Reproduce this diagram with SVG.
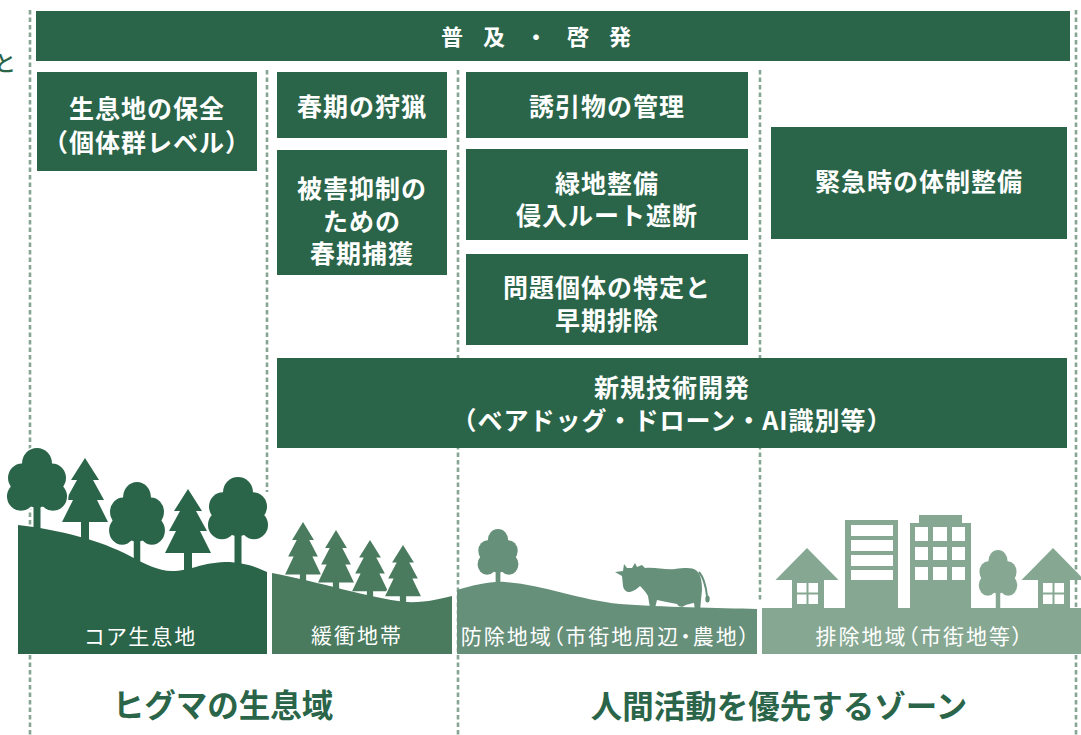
<svg xmlns="http://www.w3.org/2000/svg" xmlns:xlink="http://www.w3.org/1999/xlink" width="1081" height="735" viewBox="0 0 1081 735">
  <style>
    .box { fill: #2a6549; }
    .bt { fill: #fff; font-family: "Noto Sans CJK JP", "Noto Sans", sans-serif; font-weight: 700; font-size: 25px; letter-spacing: 1px; text-anchor: middle; dominant-baseline: central; }
    .banner { fill: #fff; font-family: "Noto Sans CJK JP", sans-serif; font-weight: 700; font-size: 22px; letter-spacing: 20px; text-anchor: middle; dominant-baseline: central; }
    .lt { fill: #fff; font-family: "Noto Sans CJK JP", sans-serif; font-weight: 400; font-size: 21px; letter-spacing: 2px; text-anchor: middle; dominant-baseline: central; font-feature-settings: "palt"; }
    .zone { fill: #2a6549; font-family: "Noto Sans CJK JP", sans-serif; font-weight: 700; font-size: 31.5px; text-anchor: middle; dominant-baseline: central; }
    .dash { stroke: #86a592; stroke-width: 2.6; stroke-dasharray: 4.5 3; fill: none; }
    .halo { fill: #fff; stroke: #fff; stroke-width: 3; }
    .win { fill: #fff; }
    .c1 { fill: #2a6549; }
    .c2 { fill: #4a7b5e; }
    .c3 { fill: #66907a; }
    .c4 { fill: #86a892; }
  </style>
  <defs>
    <!-- broadleaf tree: canopy top at (0,0) -->
    <g id="broadleaf">
      <circle cx="0" cy="15" r="15"/>
      <circle cx="-15" cy="29" r="14"/>
      <circle cx="15" cy="29" r="14"/>
      <circle cx="-16" cy="47" r="14"/>
      <circle cx="16" cy="47" r="14"/>
      <circle cx="0" cy="40" r="18"/>
      <rect x="-3.5" y="45" width="7" height="70"/>
    </g>
    <!-- conifer: apex at (0,0) -->
    <g id="pine">
      <path d="M0,0 L14,22 L8,22 L19,42 L12,42 L23,64 L-23,64 L-12,42 L-19,42 L-8,22 L-14,22 Z"/>
      <rect x="-4" y="60" width="8" height="40"/>
    </g>
    <g id="house">
      <path d="M0,0 L31.5,32 L-31.5,32 Z"/>
      <rect x="-15" y="30" width="32" height="32"/>
      <rect class="win" x="-10" y="35" width="9.5" height="9.5"/>
      <rect class="win" x="1.5" y="35" width="9.5" height="9.5"/>
      <rect class="win" x="-10" y="46.5" width="9.5" height="9.5"/>
      <rect class="win" x="1.5" y="46.5" width="9.5" height="9.5"/>
    </g>
  </defs>

  <rect width="1081" height="735" fill="#fff"/>

  <!-- zone separators -->
  <g id="separators">
    <line class="dash" x1="30" y1="10" x2="30" y2="735"/>
    <line class="dash" x1="267" y1="70" x2="267" y2="492"/>
    <line class="dash" x1="458" y1="70" x2="458" y2="735"/>
    <line class="dash" x1="760" y1="70" x2="760" y2="600"/>
    <line class="dash" x1="1076" y1="10" x2="1076" y2="735"/>
  </g>

  <text x="-6" y="61" style="fill:#2a6549;font-family:'Noto Sans CJK JP',sans-serif;font-size:22px;font-weight:500;dominant-baseline:central">と</text>

  <!-- measures -->
  <g id="banner">
    <rect class="box" x="36" y="11" width="1034" height="50"/>
    <text class="banner" x="546" y="35">普及・啓発</text>
  </g>
  <g id="habitat-conservation">
    <rect class="box" x="37" y="72" width="220" height="99"/>
    <text class="bt" x="147" y="107">生息地の保全</text>
    <text class="bt" x="147" y="141">（個体群レベル）</text>
  </g>
  <g id="spring-hunting">
    <rect class="box" x="277" y="72" width="170" height="66"/>
    <text class="bt" x="362" y="105">春期の狩猟</text>
  </g>
  <g id="spring-capture">
    <rect class="box" x="277" y="150" width="170" height="125"/>
    <text class="bt" x="362" y="187">被害抑制の</text>
    <text class="bt" x="362" y="220">ための</text>
    <text class="bt" x="362" y="252">春期捕獲</text>
  </g>
  <g id="attractant-management">
    <rect class="box" x="466" y="72" width="282" height="66"/>
    <text class="bt" x="607" y="105">誘引物の管理</text>
  </g>
  <g id="green-corridor">
    <rect class="box" x="466" y="149" width="282" height="91"/>
    <text class="bt" x="607" y="182">緑地整備</text>
    <text class="bt" x="607" y="214">侵入ルート遮断</text>
  </g>
  <g id="problem-bears">
    <rect class="box" x="466" y="254" width="282" height="91"/>
    <text class="bt" x="607" y="286">問題個体の特定と</text>
    <text class="bt" x="607" y="319">早期排除</text>
  </g>
  <g id="emergency">
    <rect class="box" x="771" y="127" width="296" height="112"/>
    <text class="bt" x="919" y="180">緊急時の体制整備</text>
  </g>
  <g id="new-tech">
    <rect class="box" x="277" y="358" width="790" height="90"/>
    <text class="bt" x="672" y="386">新規技術開発</text>
    <text class="bt" x="672" y="419">（ベアドッグ・ドローン・AI識別等）</text>
  </g>

  <!-- core habitat -->
  <g id="core-habitat" class="c1">
    <use href="#pine" class="halo" transform="translate(85,458)"/>
    <use href="#pine" transform="translate(85,458)"/>
    <use href="#pine" class="halo" transform="translate(188,489)"/>
    <use href="#pine" transform="translate(188,489)"/>
    <use href="#broadleaf" class="halo" transform="translate(37,448) scale(1,1.03)"/>
    <use href="#broadleaf" transform="translate(37,448) scale(1,1.03)"/>
    <use href="#broadleaf" class="halo" transform="translate(137,482) scale(0.93,1.03)"/>
    <use href="#broadleaf" transform="translate(137,482) scale(0.93,1.03)"/>
    <use href="#broadleaf" class="halo" transform="translate(238,477) scale(1,1.02)"/>
    <use href="#broadleaf" transform="translate(238,477) scale(1,1.02)"/>
    <path d="M18,525 C60,530 100,540 130,556 C145,564 158,571 172,571 C190,571 200,563 225,562 C245,562 258,568 267,572 L267,654 L18,654 Z"/>
    <text class="lt" x="141" y="635">コア生息地</text>
  </g>

  <!-- buffer zone -->
  <g id="buffer-zone" class="c2">
    <use href="#pine" class="halo" transform="translate(303,522) scale(0.78,0.82)"/>
    <use href="#pine" transform="translate(303,522) scale(0.78,0.82)"/>
    <use href="#pine" class="halo" transform="translate(336,530) scale(0.78,0.82)"/>
    <use href="#pine" transform="translate(336,530) scale(0.78,0.82)"/>
    <use href="#pine" class="halo" transform="translate(370,540) scale(0.78,0.8)"/>
    <use href="#pine" transform="translate(370,540) scale(0.78,0.8)"/>
    <use href="#pine" class="halo" transform="translate(403,545) scale(0.78,0.8)"/>
    <use href="#pine" transform="translate(403,545) scale(0.78,0.8)"/>
    <path d="M272,573 C320,582 370,598 405,602 C425,603 440,599 452,596 L452,654 L272,654 Z"/>
    <text class="lt" x="357" y="634">緩衝地帯</text>
  </g>

  <!-- control zone -->
  <g id="control-zone" class="c3">
    <use href="#broadleaf" transform="translate(498,529) scale(0.68,0.75)"/>
    <path d="M457,590 C475,585 490,581 505,582 C540,584 580,600 620,604 C660,607 720,608 757,609 L757,654 L457,654 Z"/>
    <path d="M615,572 L623,571 L624,564 L627,568 L632,568 L635,563 L637,567 L642,565 L645,568 C655,567 665,570 675,569 C685,568 692,567 697,571 C701,575 702,582 702,590 L701,600 L700,611 L695,611 L694,603 C690,604 687,604 684,606 C681,608 678,606 677,604 C670,603 663,601 657,600 L655,608 L650,608 L648,596 C646,592 643,589 640,586 C637,589 634,591 630,592 C626,592 624,590 623,586 L622,576 Z"/>
    <path d="M699,572 C704,578 706,587 707,596" style="fill:none;stroke:#66907a;stroke-width:2"/>
    <ellipse cx="707.5" cy="599" rx="2.2" ry="3.5"/>
    <text class="lt" x="606" y="635">防除地域（市街地周辺・農地）</text>
  </g>

  <!-- exclusion zone -->
  <g id="exclusion-zone" class="c4">
    <use href="#house" transform="translate(807,548)"/>
    <rect x="845" y="520" width="53" height="90"/>
    <rect class="win" x="851" y="525" width="42" height="11"/>
    <rect class="win" x="851" y="540" width="42" height="11"/>
    <rect class="win" x="851" y="555" width="42" height="11"/>
    <rect class="win" x="851" y="570" width="42" height="10"/>
    <rect x="919" y="515" width="43" height="10"/>
    <rect x="910" y="523" width="61" height="87"/>
    <rect class="win" x="915" y="527" width="13" height="14"/>
    <rect class="win" x="933" y="527" width="14" height="14"/>
    <rect class="win" x="952" y="527" width="13" height="14"/>
    <rect class="win" x="915" y="547" width="13" height="13"/>
    <rect class="win" x="933" y="547" width="14" height="13"/>
    <rect class="win" x="952" y="547" width="13" height="13"/>
    <rect class="win" x="915" y="567" width="13" height="13"/>
    <rect class="win" x="933" y="567" width="14" height="13"/>
    <rect class="win" x="952" y="567" width="13" height="13"/>
    <use href="#broadleaf" transform="translate(998,550) scale(0.64,0.75)"/>
    <use href="#house" transform="translate(1053,548)"/>
    <rect x="762" y="608" width="319" height="46"/>
    <text class="lt" x="920" y="635">排除地域（市街地等）</text>
  </g>

  <!-- zone captions -->
  <text class="zone" x="223" y="703">ヒグマの生息域</text>
  <text class="zone" x="779" y="704">人間活動を優先するゾーン</text>
</svg>
